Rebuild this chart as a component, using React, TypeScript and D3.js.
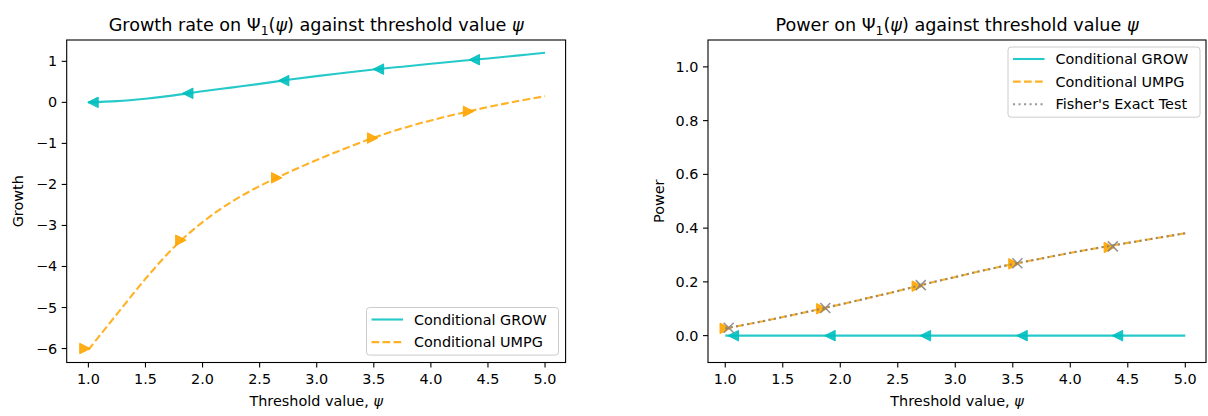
import React from 'react';
import * as d3 from 'd3';

// Threshold grid the curves are evaluated on
const psi = [1.0, 1.25, 1.5, 1.75, 2.0, 2.25, 2.5, 2.75, 3.0, 3.25, 3.5, 3.75, 4.0, 4.25, 4.5, 4.75, 5.0];

// Growth rate curves
const growGrowth = [0, 0.03, 0.09, 0.17, 0.27, 0.36, 0.45, 0.55, 0.64, 0.72, 0.8, 0.87, 0.94, 1.01, 1.07, 1.14, 1.21];
const umpgGrowth = [-6.03, -5.16, -4.3, -3.53, -2.92, -2.43, -2.04, -1.71, -1.405, -1.122, -0.86, -0.635, -0.44, -0.27, -0.115, 0.025, 0.15];

// Power curves
const growPower = [0, 0, 0, 0, 0, 0, 0, 0, 0, 0, 0, 0, 0, 0, 0, 0, 0];
const umpgPower = [0.027, 0.047, 0.069, 0.092, 0.116, 0.141, 0.166, 0.193, 0.218, 0.243, 0.266, 0.287, 0.308, 0.327, 0.345, 0.363, 0.381];
const fisherPower = [0.027, 0.047, 0.069, 0.092, 0.116, 0.141, 0.166, 0.193, 0.218, 0.243, 0.266, 0.287, 0.308, 0.327, 0.345, 0.363, 0.381];

// Marker positions along each curve
const growGrowthMarkX = [1.04, 1.87, 2.71, 3.54, 4.38];
const growGrowthMarkY = [0.0, 0.22, 0.53, 0.81, 1.04];
const umpgGrowthMarkX = [0.97, 1.81, 2.65, 3.49, 4.33];
const umpgGrowthMarkY = [-6.0, -3.36, -1.84, -0.87, -0.22];
const growPowerMarkX = [1.07, 1.91, 2.74, 3.58, 4.41];
const growPowerMarkY = [0, 0, 0, 0, 0];
const umpgPowerMarkX = [1.0, 1.84, 2.67, 3.51, 4.34];
const umpgPowerMarkY = [0.027, 0.1, 0.184, 0.267, 0.328];
const fisherMarkX = [1.03, 1.87, 2.7, 3.54, 4.37];
const fisherMarkY = [0.029, 0.103, 0.188, 0.269, 0.332];

// Axis ticks
const xTicks = [1.0, 1.5, 2.0, 2.5, 3.0, 3.5, 4.0, 4.5, 5.0];
const growthTicks = [-6, -5, -4, -3, -2, -1, 0, 1];
const powerTicks = [0.0, 0.2, 0.4, 0.6, 0.8, 1.0];

const FONT = 'DejaVu Sans, Liberation Sans, sans-serif';
const CYAN = '#00bfbf';
const ORANGE = '#ffa500';
const GREY = '#808080';
const TICK_FS = 14.4;
const TITLE_FS = 17.6;

const TOP = 40;
const BOTTOM = 362.5;

type Series = { x: number[]; y: number[] };

function triPath(cx: number, cy: number, s: number, dir: 'left' | 'right') {
  const h = s / 2;
  if (dir === 'left') return `M${cx - h},${cy}L${cx + h},${cy - h}L${cx + h},${cy + h}Z`;
  return `M${cx + h},${cy}L${cx - h},${cy - h}L${cx - h},${cy + h}Z`;
}

function Title({ x, y, lead }: { x: number; y: number; lead: string }) {
  return (
    <text x={x} y={y} textAnchor="middle" fontSize={TITLE_FS} fontFamily={FONT} fill="#000">
      <tspan>{lead}</tspan>
      <tspan>Ψ</tspan>
      <tspan dy={4} fontSize={TITLE_FS * 0.7}>1</tspan>
      <tspan dy={-4}>(</tspan>
      <tspan fontStyle="italic">ψ</tspan>
      <tspan>) against threshold value </tspan>
      <tspan fontStyle="italic">ψ</tspan>
    </text>
  );
}

type LegendItem = { label: string; color: string; dash?: string; width: number; opacity: number };

function Legend({ left, top, width, items }: { left: number; top: number; width: number; items: LegendItem[] }) {
  const rowH = 22.6;
  const height = 25 + (items.length - 1) * rowH;
  return (
    <g>
      <rect x={left} y={top} width={width} height={height} rx={3} ry={3}
        fill="#fff" fillOpacity={0.8} stroke="#cccccc" strokeWidth={1} />
      {items.map((it, i) => {
        const cy = top + 12 + i * rowH;
        return (
          <g key={it.label}>
            <line x1={left + 5} x2={left + 36.5} y1={cy} y2={cy} stroke={it.color}
              strokeWidth={it.width} strokeDasharray={it.dash} strokeOpacity={it.opacity} />
            <text x={left + 47.5} y={cy + 5} fontSize={TICK_FS} fontFamily={FONT} fill="#000">{it.label}</text>
          </g>
        );
      })}
    </g>
  );
}

function Frame({ x, y, yTicks, fmt, x0, x1 }: {
  x: d3.ScaleLinear<number, number>; y: d3.ScaleLinear<number, number>;
  yTicks: number[]; fmt: (v: number) => string; x0: number; x1: number;
}) {
  return (
    <g>
      {xTicks.map((t) => (
        <g key={'x' + t}>
          <line x1={x(t)} x2={x(t)} y1={BOTTOM} y2={BOTTOM + 5} stroke="#000" strokeWidth={1.1} />
          <text x={x(t)} y={BOTTOM + 21.5} textAnchor="middle" fontSize={TICK_FS} fontFamily={FONT} fill="#000">
            {d3.format('.1f')(t)}
          </text>
        </g>
      ))}
      {yTicks.map((t) => (
        <g key={'y' + t}>
          <line x1={x0 - 5} x2={x0} y1={y(t)} y2={y(t)} stroke="#000" strokeWidth={1.1} />
          <text x={x0 - 9.5} y={y(t) + 5} textAnchor="end" fontSize={TICK_FS} fontFamily={FONT} fill="#000">
            {fmt(t)}
          </text>
        </g>
      ))}
      <rect x={x0} y={TOP} width={x1 - x0} height={BOTTOM - TOP} fill="none" stroke="#000" strokeWidth={1.1} />
      <text x={(x0 + x1) / 2} y={406} textAnchor="middle" fontSize={TICK_FS} fontFamily={FONT} fill="#000">
        <tspan>Threshold value, </tspan>
        <tspan fontStyle="italic">ψ</tspan>
      </text>
    </g>
  );
}

export default function App() {
  // Left panel: growth rate
  const lx0 = 66.7, lx1 = 565.6;
  const xL = d3.scaleLinear().domain([0.81, 5.18]).range([lx0, lx1]);
  const yL = d3.scaleLinear().domain([-6.34, 1.52]).range([BOTTOM, TOP]);

  // Right panel: power
  const rx0 = 708, rx1 = 1206;
  const xR = d3.scaleLinear().domain([0.85, 5.18]).range([rx0, rx1]);
  const yR = d3.scaleLinear().domain([-0.1, 1.1]).range([BOTTOM, TOP]);

  const lineOf = (xs: d3.ScaleLinear<number, number>, ys: d3.ScaleLinear<number, number>, vals: number[]) =>
    d3.line<number>().x((_, i) => xs(psi[i])).y((v) => ys(v)).curve(d3.curveCatmullRom)(vals) || '';

  const minus = (v: number) => (v < 0 ? '\u2212' + Math.abs(v) : String(v));
  const oneDec = (v: number) => d3.format('.1f')(v);

  const S = 10.5;

  const markers = (s: Series, xs: d3.ScaleLinear<number, number>, ys: d3.ScaleLinear<number, number>,
    dir: 'left' | 'right', color: string, op: number) =>
    s.x.map((v, i) => (
      <path key={i} d={triPath(xs(v), ys(s.y[i]), S, dir)} fill={color} fillOpacity={op}
        stroke={color} strokeOpacity={op} strokeWidth={1} />
    ));

  const crosses = (s: Series, xs: d3.ScaleLinear<number, number>, ys: d3.ScaleLinear<number, number>) =>
    s.x.map((v, i) => {
      const cx = xs(v), cy = ys(s.y[i]), h = 5;
      return (
        <path key={i} d={`M${cx - h},${cy - h}L${cx + h},${cy + h}M${cx - h},${cy + h}L${cx + h},${cy - h}`}
          stroke={GREY} strokeOpacity={0.85} strokeWidth={1.5} fill="none" />
      );
    });

  return (
    <svg width={1208} height={416} style={{ position: 'absolute', left: 0, top: 0, background: '#fff' }}>
      <rect x={0} y={0} width={1208} height={416} fill="#fff" />

      {/* Growth panel */}
      <Title x={(lx0 + lx1) / 2} y={31} lead="Growth rate on " />
      <text transform={`translate(22.5,${(TOP + BOTTOM) / 2}) rotate(-90)`} textAnchor="middle"
        fontSize={TICK_FS} fontFamily={FONT} fill="#000">Growth</text>
      <path d={lineOf(xL, yL, umpgGrowth)} fill="none" stroke={ORANGE} strokeOpacity={0.85}
        strokeWidth={2.1} strokeDasharray="7.7,3.3" />
      {markers({ x: umpgGrowthMarkX, y: umpgGrowthMarkY }, xL, yL, 'right', ORANGE, 0.9)}
      <path d={lineOf(xL, yL, growGrowth)} fill="none" stroke={CYAN} strokeOpacity={0.85} strokeWidth={2.1} />
      {markers({ x: growGrowthMarkX, y: growGrowthMarkY }, xL, yL, 'left', CYAN, 0.9)}
      <Frame x={xL} y={yL} yTicks={growthTicks} fmt={minus} x0={lx0} x1={lx1} />
      <Legend left={366.5} top={307.5} width={192} items={[
        { label: 'Conditional GROW', color: CYAN, width: 2.1, opacity: 0.85 },
        { label: 'Conditional UMPG', color: ORANGE, width: 2.1, dash: '7.7,3.3', opacity: 0.85 },
      ]} />

      {/* Power panel */}
      <Title x={(rx0 + rx1) / 2} y={31} lead="Power on " />
      <text transform={`translate(664,${(TOP + BOTTOM) / 2}) rotate(-90)`} textAnchor="middle"
        fontSize={TICK_FS} fontFamily={FONT} fill="#000">Power</text>
      <path d={lineOf(xR, yR, growPower)} fill="none" stroke={CYAN} strokeOpacity={0.85} strokeWidth={2.1} />
      {markers({ x: growPowerMarkX, y: growPowerMarkY }, xR, yR, 'left', CYAN, 0.9)}
      <path d={lineOf(xR, yR, umpgPower)} fill="none" stroke={ORANGE} strokeOpacity={0.85}
        strokeWidth={2.1} strokeDasharray="7.7,3.3" />
      {markers({ x: umpgPowerMarkX, y: umpgPowerMarkY }, xR, yR, 'right', ORANGE, 0.9)}
      <path d={lineOf(xR, yR, fisherPower)} fill="none" stroke={GREY} strokeOpacity={0.8}
        strokeWidth={2.1} strokeDasharray="2.1,3.4" />
      {crosses({ x: fisherMarkX, y: fisherMarkY }, xR, yR)}
      <Frame x={xR} y={yR} yTicks={powerTicks} fmt={oneDec} x0={rx0} x1={rx1} />
      <Legend left={1008} top={47} width={192} items={[
        { label: 'Conditional GROW', color: CYAN, width: 2.1, opacity: 0.85 },
        { label: 'Conditional UMPG', color: ORANGE, width: 2.1, dash: '7.7,3.3', opacity: 0.85 },
        { label: "Fisher's Exact Test", color: GREY, width: 2.1, dash: '2.1,3.4', opacity: 0.8 },
      ]} />
    </svg>
  );
}
